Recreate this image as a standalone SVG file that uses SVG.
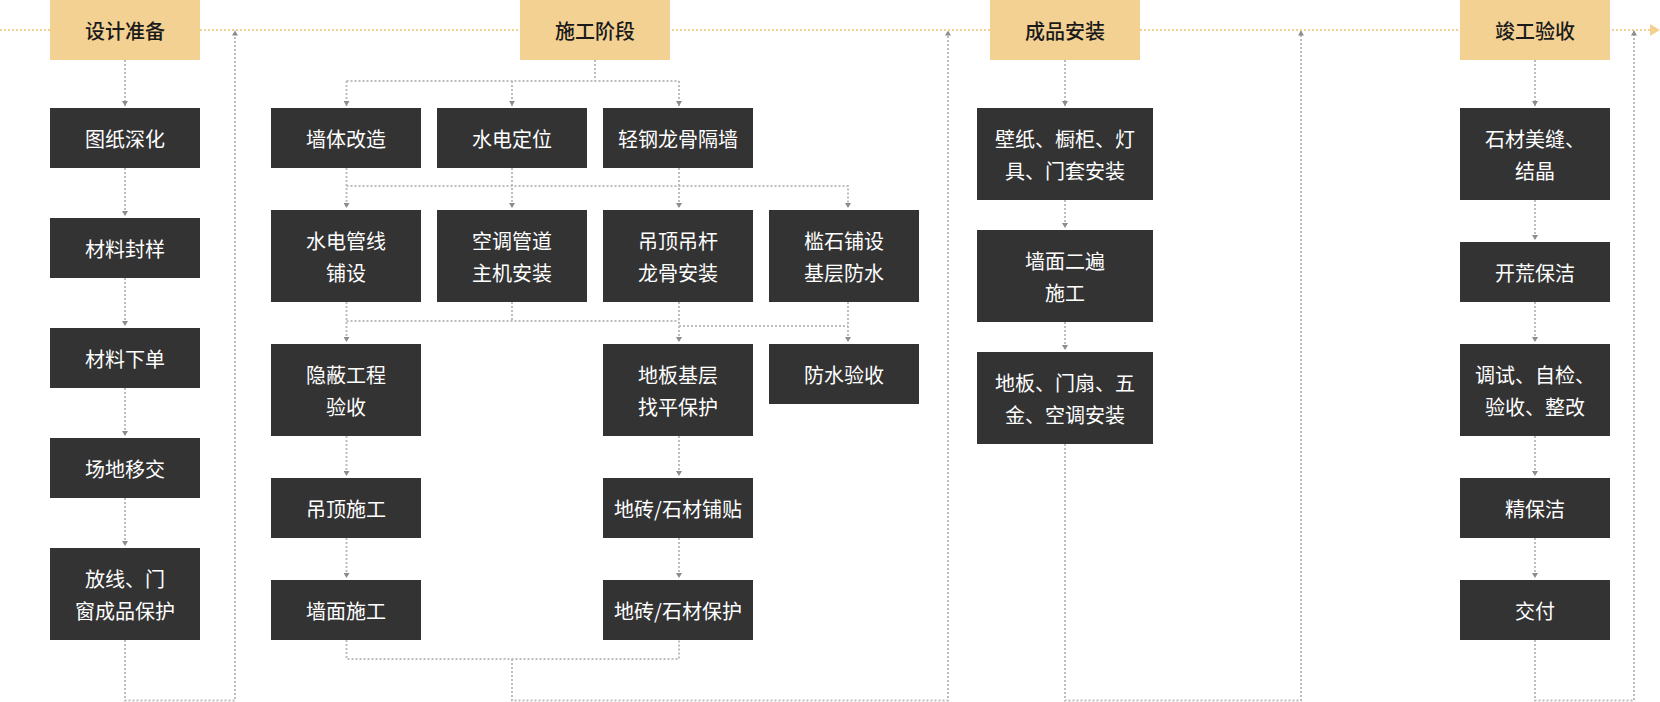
<svg xmlns="http://www.w3.org/2000/svg" width="1660" height="702" viewBox="0 0 1660 702">
<defs>
<style>
.hd rect{fill:#f3d193}
.hd text{fill:#1a1a1a;font-family:"Noto Sans CJK SC","Noto Sans",sans-serif;font-size:20px;font-weight:500;text-anchor:middle;dominant-baseline:central}
.nd rect{fill:#333333}
.nd text{fill:#ffffff;font-family:"Noto Sans CJK SC","Noto Sans",sans-serif;font-size:20px;text-anchor:middle;dominant-baseline:central}
.cn path{fill:none;stroke:#bdbdbd;stroke-width:2;stroke-dasharray:2 2}
.cn path.a{marker-end:url(#ah)}
.main{fill:none;stroke:#f3d193;stroke-width:2;stroke-dasharray:2 2}
</style>
<marker id="ah" viewBox="0 0 5 6" refX="5" refY="3" markerWidth="5" markerHeight="6" markerUnits="userSpaceOnUse" orient="auto">
<path d="M0,0 L5,3 L0,6 z" fill="#8c8c8c"/>
</marker>
</defs>
<rect width="1660" height="702" fill="#ffffff"/>
<g id="timeline">
<path class="main" d="M0,30 H1650"/>
<polygon points="1650,24 1660,30 1650,36" fill="#f3d193"/>
</g>
<g class="cn" id="connectors">
<!-- column 1 -->
<path class="a" d="M125,60 V106"/>
<path class="a" d="M125,168 V216"/>
<path class="a" d="M125,278 V326"/>
<path class="a" d="M125,388 V436"/>
<path class="a" d="M125,498 V546"/>
<path class="a" d="M125,640 V700.5 H235 V30.5"/>
<!-- column 2 -->
<path d="M595,60 V81"/>
<path d="M346.5,81 H679"/>
<path class="a" d="M346.5,81 V106"/>
<path class="a" d="M512,81 V106"/>
<path class="a" d="M679,81 V106"/>
<path class="a" d="M346.5,168 V208"/>
<path class="a" d="M346.5,186 H848 V208"/>
<path class="a" d="M512,168 V208"/>
<path class="a" d="M679,168 V208"/>
<path class="a" d="M346.5,302 V342"/>
<path d="M512,302 V321"/>
<path d="M346.5,321 H679"/>
<path class="a" d="M679,302 V342"/>
<path d="M679,326 H848"/>
<path class="a" d="M848,302 V342"/>
<path class="a" d="M346.5,436 V476"/>
<path class="a" d="M346.5,538 V578"/>
<path class="a" d="M679,436 V476"/>
<path class="a" d="M679,538 V578"/>
<path d="M346.5,640 V659 H679 V640"/>
<path class="a" d="M512,659 V700.5 H948 V30.5"/>
<!-- column 3 -->
<path class="a" d="M1065,60 V106"/>
<path class="a" d="M1065,200 V228"/>
<path class="a" d="M1065,322 V350"/>
<path class="a" d="M1065,444 V700.5 H1301 V30.5"/>
<!-- column 4 -->
<path class="a" d="M1535,60 V106"/>
<path class="a" d="M1535,200 V240"/>
<path class="a" d="M1535,302 V342"/>
<path class="a" d="M1535,436 V476"/>
<path class="a" d="M1535,538 V578"/>
<path class="a" d="M1535,640 V700.5 H1634 V30.5"/>
</g>
<g class="hd" id="h1"><rect x="50" y="0" width="150" height="60"/><text x="125" y="30">设计准备</text></g>
<g class="hd" id="h2"><rect x="520" y="0" width="150" height="60"/><text x="595" y="30">施工阶段</text></g>
<g class="hd" id="h3"><rect x="990" y="0" width="150" height="60"/><text x="1065" y="30">成品安装</text></g>
<g class="hd" id="h4"><rect x="1460" y="0" width="150" height="60"/><text x="1535" y="30">竣工验收</text></g>

<g class="nd" id="n1a"><rect x="50" y="108" width="150" height="60"/><text x="125" y="138">图纸深化</text></g>
<g class="nd" id="n1b"><rect x="50" y="218" width="150" height="60"/><text x="125" y="248">材料封样</text></g>
<g class="nd" id="n1c"><rect x="50" y="328" width="150" height="60"/><text x="125" y="358">材料下单</text></g>
<g class="nd" id="n1d"><rect x="50" y="438" width="150" height="60"/><text x="125" y="468">场地移交</text></g>
<g class="nd" id="n1e"><rect x="50" y="548" width="150" height="92"/><text x="125" y="578">放线、门</text><text x="125" y="610">窗成品保护</text></g>

<g class="nd" id="n2a"><rect x="271" y="108" width="150" height="60"/><text x="346" y="138">墙体改造</text></g>
<g class="nd" id="n2b"><rect x="437" y="108" width="150" height="60"/><text x="512" y="138">水电定位</text></g>
<g class="nd" id="n2c"><rect x="603" y="108" width="150" height="60"/><text x="678" y="138">轻钢龙骨隔墙</text></g>
<g class="nd" id="n2d"><rect x="271" y="210" width="150" height="92"/><text x="346" y="240">水电管线</text><text x="346" y="272">铺设</text></g>
<g class="nd" id="n2e"><rect x="437" y="210" width="150" height="92"/><text x="512" y="240">空调管道</text><text x="512" y="272">主机安装</text></g>
<g class="nd" id="n2f"><rect x="603" y="210" width="150" height="92"/><text x="678" y="240">吊顶吊杆</text><text x="678" y="272">龙骨安装</text></g>
<g class="nd" id="n2g"><rect x="769" y="210" width="150" height="92"/><text x="844" y="240">槛石铺设</text><text x="844" y="272">基层防水</text></g>
<g class="nd" id="n2h"><rect x="271" y="344" width="150" height="92"/><text x="346" y="374">隐蔽工程</text><text x="346" y="406">验收</text></g>
<g class="nd" id="n2i"><rect x="603" y="344" width="150" height="92"/><text x="678" y="374">地板基层</text><text x="678" y="406">找平保护</text></g>
<g class="nd" id="n2j"><rect x="769" y="344" width="150" height="60"/><text x="844" y="374">防水验收</text></g>
<g class="nd" id="n2k"><rect x="271" y="478" width="150" height="60"/><text x="346" y="508">吊顶施工</text></g>
<g class="nd" id="n2l"><rect x="271" y="580" width="150" height="60"/><text x="346" y="610">墙面施工</text></g>
<g class="nd" id="n2m"><rect x="603" y="478" width="150" height="60"/><text x="678" y="508">地砖/石材铺贴</text></g>
<g class="nd" id="n2n"><rect x="603" y="580" width="150" height="60"/><text x="678" y="610">地砖/石材保护</text></g>

<g class="nd" id="n3a"><rect x="977" y="108" width="176" height="92"/><text x="1065" y="138">壁纸、橱柜、灯</text><text x="1065" y="170">具、门套安装</text></g>
<g class="nd" id="n3b"><rect x="977" y="230" width="176" height="92"/><text x="1065" y="260">墙面二遍</text><text x="1065" y="292">施工</text></g>
<g class="nd" id="n3c"><rect x="977" y="352" width="176" height="92"/><text x="1065" y="382">地板、门扇、五</text><text x="1065" y="414">金、空调安装</text></g>

<g class="nd" id="n4a"><rect x="1460" y="108" width="150" height="92"/><text x="1535" y="138">石材美缝、</text><text x="1535" y="170">结晶</text></g>
<g class="nd" id="n4b"><rect x="1460" y="242" width="150" height="60"/><text x="1535" y="272">开荒保洁</text></g>
<g class="nd" id="n4c"><rect x="1460" y="344" width="150" height="92"/><text x="1535" y="374">调试、自检、</text><text x="1535" y="406">验收、整改</text></g>
<g class="nd" id="n4d"><rect x="1460" y="478" width="150" height="60"/><text x="1535" y="508">精保洁</text></g>
<g class="nd" id="n4e"><rect x="1460" y="580" width="150" height="60"/><text x="1535" y="610">交付</text></g>
</svg>
